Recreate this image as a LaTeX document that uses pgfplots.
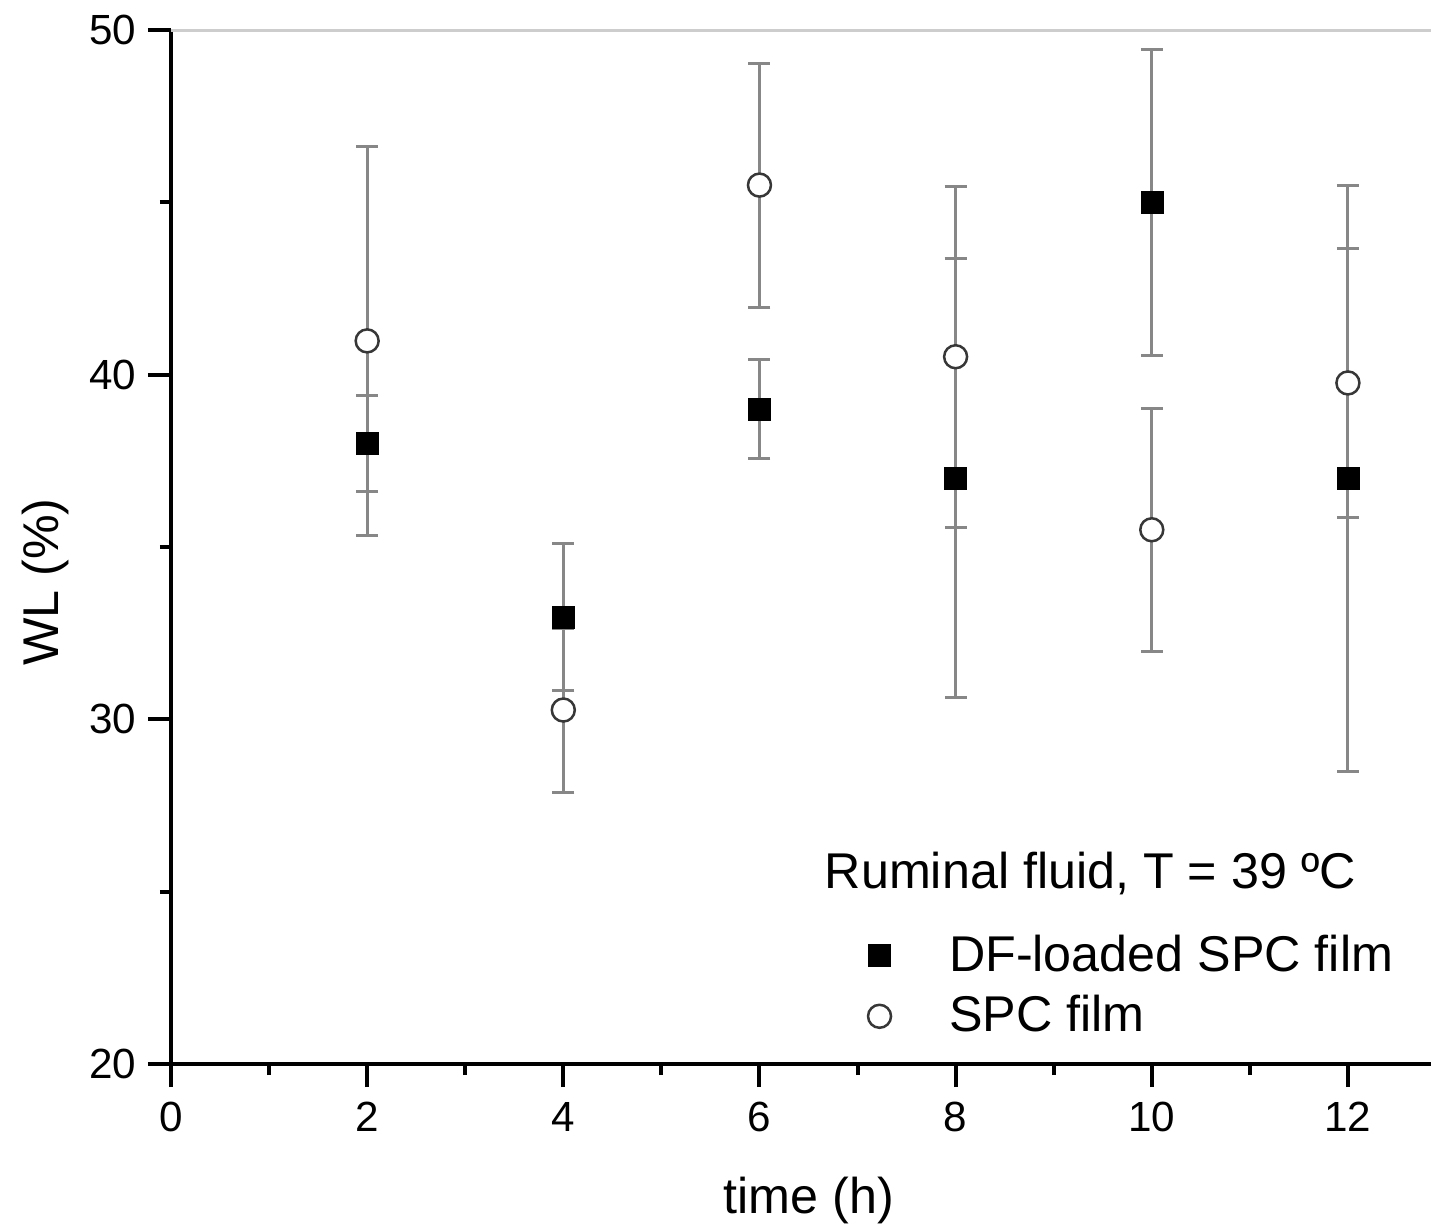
\documentclass[border=0pt]{standalone}
\usepackage{fontspec}
\setmainfont{Liberation Sans}
\usepackage{pgfplots}
\pgfplotsset{compat=1.18}
\usepackage{pgfplotstable}
\definecolor{eb}{RGB}{135,135,135}
\definecolor{topl}{RGB}{205,205,205}
\definecolor{circ}{RGB}{55,55,55}

\pgfplotstableread{
x y e
2 38.00 1.40
4 32.97 2.12
6 39.00 1.43
8 37.00 6.37
10 45.00 4.43
12 37.00 8.50
}\dftable

\pgfplotstableread{
x y e
2 40.98 5.65
4 30.27 2.38
6 45.50 3.54
8 40.52 4.95
10 35.50 3.53
12 39.76 3.89
}\spctable

\begin{document}
\begin{tikzpicture}
\begin{axis}[
  scale only axis,
  width=126mm, height=103.4mm,
  xmin=0, xmax=12.847, ymin=20, ymax=50,
  axis lines*=left,
  axis line style={-, line width=0.4mm, black},
  xtick={0,2,...,12}, ytick={20,30,40,50},
  minor xtick={1,3,...,11}, minor ytick={25,35,45},
  tick align=outside,
  major tick length=2.3mm, minor tick length=1.1mm,
  every tick/.style={line width=0.4mm, black},
  tick label style={font=\fontsize{12}{14}\selectfont},
  /pgf/number format/assume math mode=true,
  xticklabel style={anchor=base, inner sep=0pt, yshift=-4.4mm},
  yticklabel style={anchor=east, inner sep=0pt, xshift=-1.1mm},
  xlabel={time (h)},
  ylabel={WL (\%)},
  label style={font=\fontsize{14.3}{17}\selectfont},
  xlabel style={at={([yshift=-13.6mm]rel axis cs:0.5063,0)}, anchor=center, inner sep=0pt},
  ylabel style={at={([xshift=-12.6mm]rel axis cs:0,0.466)}, anchor=center, inner sep=0pt, rotate=0},
  clip=false,
  legend style={draw=none, fill=none, at={(axis cs:7.107,23.75)}, anchor=north west,
    inner sep=0pt, outer sep=0pt, column sep=5.8mm, row sep=1.9mm,
    nodes={inner sep=0pt, font=\fontsize{14.3}{17}\selectfont}},
  legend cell align=left,
  legend image code/.code={\draw[#1] plot coordinates {(0mm,0mm)};},
]
\draw[topl, line width=0.3mm] (rel axis cs:0,1) -- (rel axis cs:1,1);
\coordinate (ll) at (rel axis cs:0,0);
\coordinate (ur) at (rel axis cs:1,1);

\addplot[forget plot, only marks, mark=none,
  error bars/.cd, y dir=both, y explicit,
  error bar style={eb, line width=0.3mm},
  error mark=-,
  error mark options={eb, line width=0.3mm, mark size=1.1mm, rotate=90}]
  table[x=x, y=y, y error=e] {\dftable};
\addplot[forget plot, only marks, mark=none,
  error bars/.cd, y dir=both, y explicit,
  error bar style={eb, line width=0.3mm},
  error mark=-,
  error mark options={eb, line width=0.3mm, mark size=1.1mm, rotate=90}]
  table[x=x, y=y, y error=e] {\spctable};

\addplot[only marks, mark=square*, mark size=1.1mm,
  mark options={fill=black, draw=black, line width=0.1pt}]
  table[x=x, y=y] {\dftable};
\addlegendentry{DF-loaded SPC film}
\addplot[only marks, mark=*, mark size=1.15mm,
  mark options={fill=white, draw=circ, line width=0.25mm}]
  table[x=x, y=y] {\spctable};
\addlegendentry{SPC film}

\node[anchor=base west, inner sep=0pt, font=\fontsize{14.3}{17}\selectfont]
  at (axis cs:6.66,25.1) {Ruminal fluid, T = 39 ºC};
\end{axis}
\pgfresetboundingbox
\useasboundingbox ([shift={(-17.1mm,-15.9mm)}]ll) rectangle ([shift={(0mm,3mm)}]ur);
\end{tikzpicture}
\end{document}
